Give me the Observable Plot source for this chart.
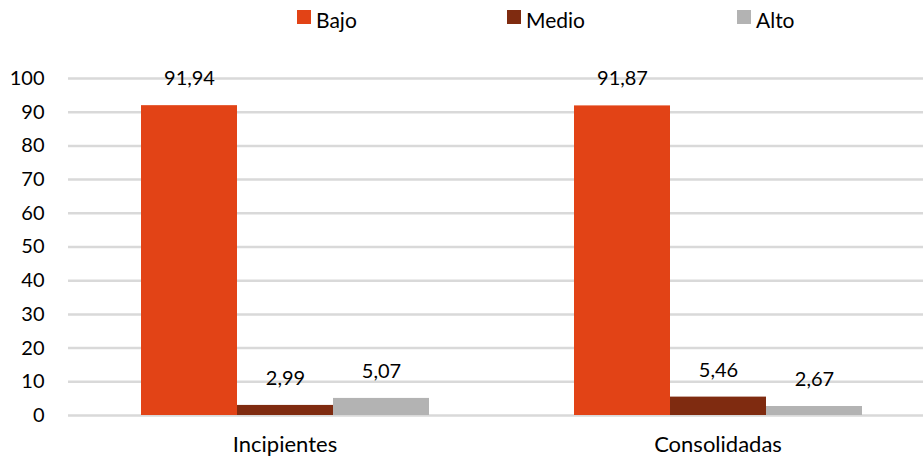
<!DOCTYPE html>
<html><head><meta charset="utf-8">
<script src="https://cdn.jsdelivr.net/npm/d3@7"></script>
<script src="https://cdn.jsdelivr.net/npm/@observablehq/plot@0.6"></script>
<style>
body{margin:0;background:#fff;font-family:Lato,sans-serif;}
#legend{position:relative;height:40px;width:923px;font-size:21px;color:#000}
.item{position:absolute;top:6px;height:28px;line-height:28px;white-space:nowrap}
.sw{position:absolute;left:0;top:4px;width:14px;height:14px}
.lab{position:absolute;left:19px;top:0}
</style></head><body>
<div id="legend"></div><div id="chart"></div>
<script>
const groups = ["Incipientes", "Consolidadas"];
const levels = ["Bajo", "Medio", "Alto"];
const colors = ["#E24316", "#7F2B10", "#B3B3B3"];
const bajo = [91.94, 91.87];
const medio = [2.99, 5.46];
const alto = [5.07, 2.67];
const yTicks = [0, 10, 20, 30, 40, 50, 60, 70, 80, 90, 100];

const series = [bajo, medio, alto];
const data = groups.flatMap((g, i) => levels.map((l, j) => ({group: g, level: l, value: series[j][i]})));
const fmt = v => v.toFixed(2).replace(".", ",");

// legend
const legendLeft = [297, 507, 737];
const legend = document.getElementById("legend");
levels.forEach((l, i) => {
  const it = document.createElement("div");
  it.className = "item";
  it.style.left = legendLeft[i] + "px";
  it.innerHTML = `<span class="sw" style="background:${colors[i]}"></span><span class="lab">${l}</span>`;
  legend.appendChild(it);
});

const chart = Plot.plot({
  width: 923, height: 423,
  marginLeft: 67, marginRight: 0, marginTop: 38, marginBottom: 48,
  style: {fontFamily: "Lato, sans-serif", fontSize: "19px", color: "#000", background: "#fff"},
  fx: {domain: groups, range: [67, 934], padding: 0, label: null},
  x: {domain: levels, paddingInner: 0, paddingOuter: 0.75, axis: null},
  y: {domain: [0, 100], label: null},
  color: {domain: levels, range: colors},
  marks: [
    Plot.ruleY(yTicks, {stroke: "#D9D9D9", strokeWidth: 2.5}),
    Plot.axisY(yTicks, {tickSize: 0, tickPadding: 24, fontSize: 20, label: null, fill: "#000"}),
    Plot.axisFx({anchor: "bottom", tickSize: 0, tickPadding: 21, fontSize: 22, label: null, fill: "#000"}),
    Plot.barY(data, {fx: "group", x: "level", y: "value", fill: "level"}),
    Plot.text(data, {fx: "group", x: "level", y: "value", text: d => fmt(d.value), dy: -27, lineAnchor: "middle", fontSize: 20, fill: "#000"})
  ]
});
document.getElementById("chart").appendChild(chart);
</script>
</body></html>
